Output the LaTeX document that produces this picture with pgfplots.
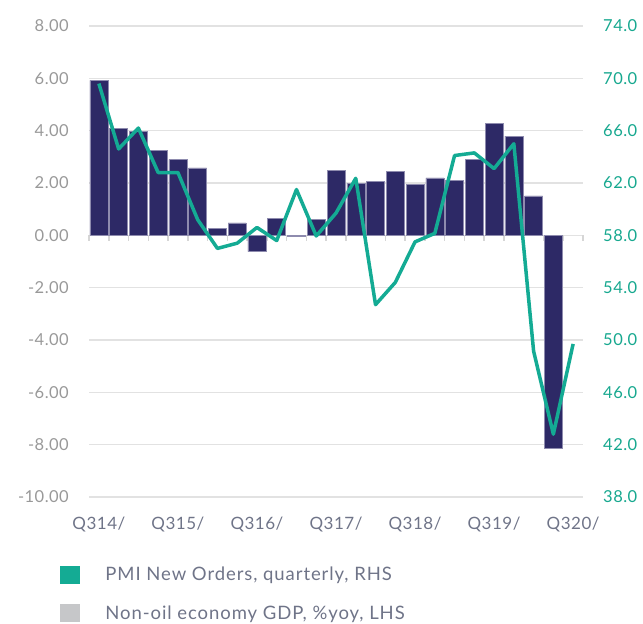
\documentclass[border=0pt]{standalone}
\usepackage{fontspec}
\setmainfont{Lato}
\usepackage{pgfplots}
\pgfplotsset{compat=1.18}
\definecolor{navy}{HTML}{2D2966}
\definecolor{baredge}{HTML}{8E8BAE}
\definecolor{tealL}{HTML}{14AB94}
\definecolor{tealT}{HTML}{17A88F}
\definecolor{legGray}{HTML}{C6C7C9}
\definecolor{gridc}{HTML}{E2E2E2}
\definecolor{tickc}{HTML}{D6D6D6}
\definecolor{lgrayT}{HTML}{999999}
\definecolor{slate}{HTML}{6F7488}
\begin{document}
\begin{tikzpicture}
\path[use as bounding box] (0,0) rectangle (643pt,624pt);
\begin{axis}[
  at={(89pt,127pt)}, anchor=south west,
  scale only axis, width=494pt, height=471pt,
  xmin=-0.5, xmax=24.5, ymin=-10, ymax=8,
  axis line style={draw=none},
  major tick length=0pt,
  tick style={draw=none},
  ytick={-10,-8,...,8},
  yticklabels={-10.00,-8.00,-6.00,-4.00,-2.00,0.00,2.00,4.00,6.00,8.00},
  yticklabel style={inner sep=0pt, anchor=east, xshift=-20pt, text=lgrayT, font=\fontsize{16.5}{20}\selectfont\addfontfeature{LetterSpace=3}},
  xtick={0,4,...,24},
  xticklabels={Q314/,Q315/,Q316/,Q317/,Q318/,Q319/,Q320/},
  xticklabel style={inner sep=0pt, anchor=north, yshift=-20pt, text=slate, font=\fontsize{17}{20}\selectfont\addfontfeature{LetterSpace=3}},
  ymajorgrids=true,
  grid style={color=gridc, line width=1.5pt},
  clip=false,
  legend style={at={(axis description cs:-0.0587,-0.1465)}, anchor=north west, draw=none, fill=none,
    inner sep=0pt, outer sep=0pt, row sep=21pt, column sep=26pt,
    font=\fontsize{18.5}{22}\selectfont\addfontfeature{LetterSpace=5}, text=slate, cells={anchor=west}, nodes={inner sep=0pt}},
]
\pgfplotsinvokeforeach{-0.5,0.5,...,24.5}{
  \draw[tickc, line width=1.5pt] (axis cs:#1,0) -- ([yshift=-6pt]axis cs:#1,0);
}
\addplot[ybar, bar width=18pt, fill=navy, draw=baredge, line width=0.5pt, forget plot] coordinates {
(0,5.92) (1,4.08) (2,3.97) (3,3.24) (4,2.89) (5,2.58) (6,0.27) (7,0.48)
(8,-0.62) (9,0.66) (10,-0.05) (11,0.60) (12,2.47) (13,1.98) (14,2.05) (15,2.44)
(16,1.95) (17,2.20) (18,2.10) (19,2.89) (20,4.29) (21,3.79) (22,1.51) (23,-8.14)
};
\addlegendimage{legend image code/.code={\fill[tealL] (0pt,-8.5pt) rectangle (19pt,8.5pt);}}
\addlegendentry{PMI New Orders, quarterly, RHS}
\addlegendimage{legend image code/.code={\fill[legGray] (0pt,-8.5pt) rectangle (19pt,8.5pt);}}
\addlegendentry{Non-oil economy GDP, \%yoy, LHS}
\end{axis}
\begin{axis}[
  at={(89pt,127pt)}, anchor=south west,
  scale only axis, width=494pt, height=471pt,
  xmin=-0.5, xmax=24.5, ymin=38, ymax=74,
  axis x line=none,
  axis y line*=right,
  axis line style={draw=none},
  major tick length=0pt,
  tick style={draw=none},
  ytick={38,42,...,74},
  yticklabels={38.0,42.0,46.0,50.0,54.0,58.0,62.0,66.0,70.0,74.0},
  yticklabel style={inner sep=0pt, anchor=west, xshift=20pt, text=tealT, font=\fontsize{16.5}{20}\selectfont\addfontfeature{LetterSpace=3}},
  clip=false,
]
\addplot[tealL, line width=3.5pt, line join=round, mark=none] coordinates {
(0,69.6) (1,64.6) (2,66.2) (3,62.8) (4,62.8) (5,59.2) (6,57.0) (7,57.4)
(8,58.6) (9,57.6) (10,61.5) (11,57.95) (12,59.7) (13,62.36) (14,52.7) (15,54.4)
(16,57.5) (17,58.15) (18,64.1) (19,64.3) (20,63.1) (21,65.0) (22,49.15) (23,42.8) (24,49.7)
};
\end{axis}
\end{tikzpicture}
\end{document}
